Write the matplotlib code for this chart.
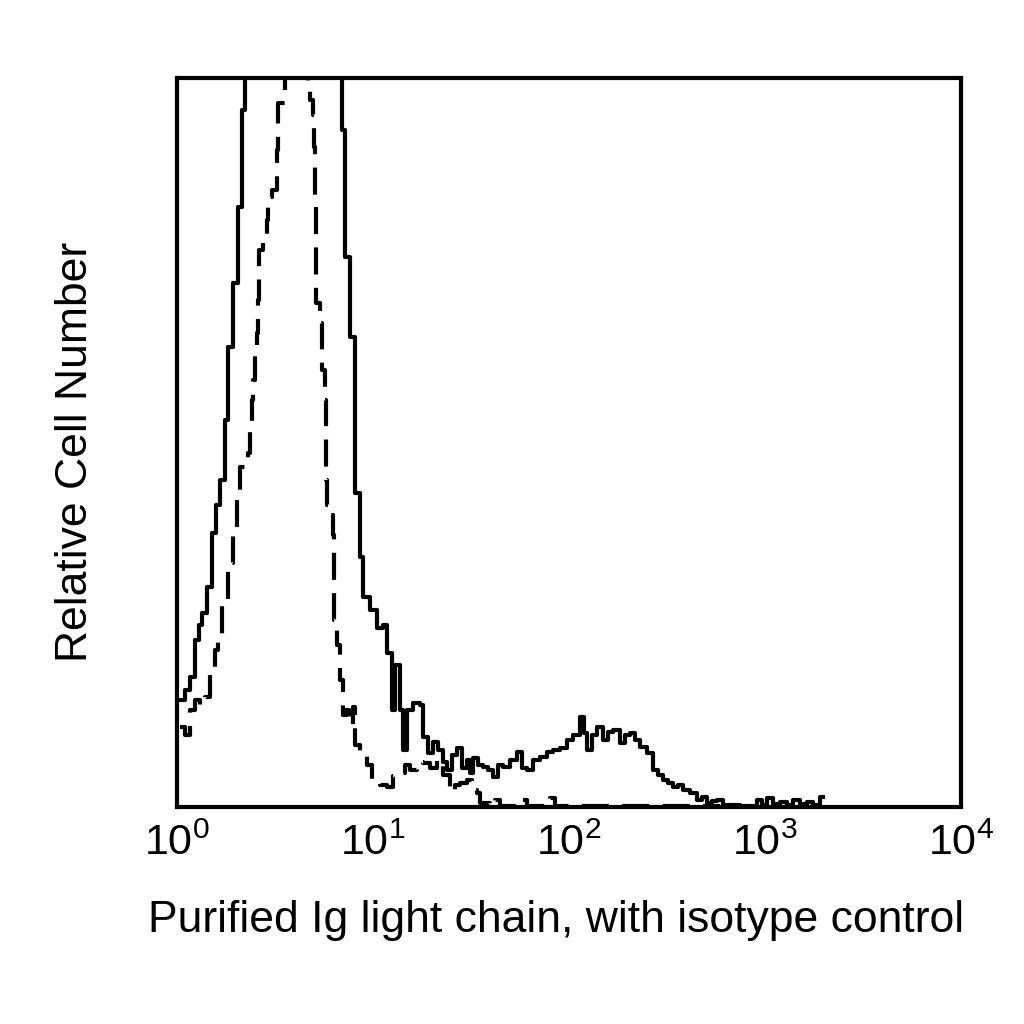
import matplotlib
matplotlib.use('Agg')
import matplotlib.pyplot as plt
import numpy as np

plt.rcParams['font.family'] = ['Liberation Sans', 'DejaVu Sans']
plt.rcParams['mathtext.fontset'] = 'custom'
plt.rcParams['mathtext.rm'] = 'Liberation Sans'
plt.rcParams['mathtext.it'] = 'Liberation Sans'
plt.rcParams['mathtext.default'] = 'regular'

# Ig light chain stain (solid): log10 fluorescence, relative cell number (0-100 = axis height)
stain_log = [0.020, 0.041, 0.066, 0.092, 0.112, 0.128, 0.153, 0.179, 0.199, 0.219,
             0.245, 0.260, 0.286, 0.311, 0.332, 0.347, 0.842, 0.842, 0.857, 0.883,
             0.883, 0.908, 0.908, 0.934, 0.949, 0.985, 1.020, 1.051, 1.071, 1.097,
             1.112, 1.138, 1.153, 1.173, 1.204, 1.240, 1.255, 1.281, 1.306, 1.332,
             1.357, 1.378, 1.403, 1.429, 1.454, 1.480, 1.495, 1.510, 1.536, 1.561,
             1.587, 1.612, 1.638, 1.663, 1.699, 1.735, 1.760, 1.786, 1.816, 1.852,
             1.888, 1.918, 1.954, 1.990, 2.020, 2.056, 2.077, 2.092, 2.117, 2.143,
             2.173, 2.199, 2.224, 2.260, 2.286, 2.311, 2.337, 2.362, 2.398, 2.429,
             2.454, 2.480, 2.505, 2.531, 2.556, 2.582, 2.617, 2.653, 2.679, 2.704,
             2.730, 2.755, 2.786, 2.872, 2.959, 2.985, 3.010, 3.041, 3.077, 3.112,
             3.143, 3.179, 3.214, 3.245, 3.281, 3.296]
stain_count = [14.7, 16.0, 17.8, 22.9, 25.0, 26.6, 30.2, 37.6, 41.4, 44.9,
               53.1, 63.1, 71.9, 82.3, 95.6, 102, 102, 92.9, 75.4, 74.1,
               64.5, 60.4, 43.1, 34.3, 28.8, 27.0, 24.6, 25.0, 21.1, 13.3,
               19.5, 13.3, 7.8, 13.3, 14.3, 14.0, 9.6, 7.4, 8.9, 7.8,
               6.2, 5.1, 7.1, 8.1, 5.3, 6.4, 4.7, 6.7, 5.8, 5.5,
               5.1, 4.1, 5.8, 5.5, 6.4, 7.5, 5.3, 5.1, 6.4, 6.9,
               7.5, 7.8, 8.1, 9.2, 9.9, 12.3, 10.2, 7.8, 9.9, 11.0,
               9.2, 10.3, 10.6, 8.8, 9.9, 10.2, 9.2, 8.2, 7.4, 5.1,
               4.4, 3.7, 3.3, 2.7, 3.0, 2.3, 1.9, 1.0, 1.4, 0.5,
               0.8, 1.0, 0.3, 0.1, 1.0, 0.3, 1.2, 0.4, 0.7, 0.3,
               1.0, 0.4, 0.7, 0.3, 1.4, 1.4]

# isotype control (dashed)
iso_log = [0.015, 0.041, 0.066, 0.092, 0.117, 0.143, 0.168, 0.194, 0.209, 0.230,
           0.260, 0.286, 0.306, 0.321, 0.347, 0.362, 0.372, 0.383, 0.388, 0.398,
           0.408, 0.413, 0.418, 0.439, 0.459, 0.464, 0.485, 0.510, 0.515, 0.551,
           0.653, 0.668, 0.679, 0.694, 0.699, 0.704, 0.709, 0.730, 0.740, 0.755,
           0.760, 0.765, 0.781, 0.796, 0.801, 0.816, 0.832, 0.847, 0.862, 0.878,
           0.898, 0.908, 0.934, 0.969, 0.995, 1.036, 1.071, 1.102, 1.138, 1.163,
           1.189, 1.224, 1.255, 1.291, 1.327, 1.357, 1.393, 1.418, 1.444, 1.480,
           1.505, 1.531, 1.546, 1.597, 1.622, 1.648, 1.750, 1.760, 1.786, 1.878,
           1.903, 1.929, 2.770]
iso_count = [11.0, 9.9, 13.3, 14.7, 14.0, 15.1, 19.2, 21.5, 23.3, 28.4,
             33.5, 37.6, 42.5, 46.6, 47.6, 48.6, 51.7, 55.8, 58.6, 62.7,
             65.0, 69.5, 76.4, 77.8, 80.5, 83.7, 84.6, 90.1, 96.6, 102,
             102, 98.4, 97.0, 94.9, 90.5, 83.3, 69.1, 66.4, 59.9, 55.8,
             44.9, 41.4, 40.1, 37.3, 25.7, 22.2, 17.4, 12.6, 13.3, 11.2,
             13.7, 8.5, 7.1, 5.8, 3.7, 3.0, 2.7, 4.3, 4.7, 5.8,
             5.1, 6.2, 6.0, 5.3, 6.4, 4.4, 2.1, 3.0, 3.3, 3.7,
             2.3, 1.9, 0.5, 0.1, 1.0, 0.1, 0.1, 1.0, 0.1, 0.3,
             1.2, 0.1, 0.1]

decades = [0, 1, 2, 3, 4]

fig = plt.figure(figsize=(10.24, 10.24), dpi=100)
ax = fig.add_axes([0.173, 0.212, 0.7655, 0.712])

ax.plot(np.power(10.0, stain_log), stain_count, color='black', lw=3.0,
        drawstyle='steps-post')
ax.plot(np.power(10.0, iso_log), iso_count, color='black', lw=3.0,
        linestyle=(0, (6.5, 3.2)), drawstyle='steps-post')

ax.set_xscale('log')
ax.set_xlim(1, 1e4)
ax.set_ylim(0, 100)
ax.set_xticks([10.0 ** d for d in decades])
ax.set_xticklabels(['$10^{%d}$' % d for d in decades])
ax.xaxis.set_minor_locator(matplotlib.ticker.NullLocator())
ax.set_yticks([])
ax.tick_params(axis='x', length=0, pad=12, labelsize=31)
for s in ax.spines.values():
    s.set_linewidth(3)

ax.set_xlabel('Purified Ig light chain, with isotype control', fontsize=32)
ax.set_ylabel('Relative Cell Number', fontsize=32)
ax.xaxis.set_label_coords(0.483, -0.128)
ax.yaxis.set_label_coords(-0.103, 0.487)

fig.savefig('out.png', dpi=100)
